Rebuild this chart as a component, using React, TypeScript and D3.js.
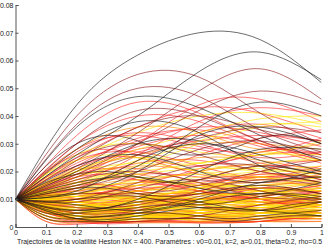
import React, { useEffect, useRef } from 'react';
import * as d3 from 'd3';

const times = [0, 0.2, 0.4, 0.6, 0.8, 1];
const fineTimes = [0, 0.1, 0.2, 0.3, 0.4, 0.5, 0.6, 0.7, 0.8, 0.9, 1];

const xTicks = [0, 0.1, 0.2, 0.3, 0.4, 0.5, 0.6, 0.7, 0.8, 0.9, 1];
const yTicks = [0, 0.01, 0.02, 0.03, 0.04, 0.05, 0.06, 0.07, 0.08];

const blackPaths = [
  [.01, .044, .062, .070, .0675, .052],
  [.01, .026, .040, .056, .063, .053],
  [.01, .036, .047, .043, .033, .024],
  [.01, .015, .022, .036, .045, .040],
  [.01, .028, .038, .034, .022, .016],
  [.01, .012, .020, .033, .036, .030],
  [.01, .020, .030, .031, .024, .019],
  [.01, .006, .010, .020, .028, .028],
  [.01, .016, .018, .014, .012, .016],
  [.01, .008, .006, .010, .016, .018],
  [.01, .004, .005, .009, .012, .010],
  [.01, .022, .026, .020, .016, .021],
  [.01, .013, .024, .030, .026, .020],
  [.01, .003, .004, .007, .006, .004],
];

const darkRedPaths = [
  [.01, .040, .055, .054, .041, .030],
  [.01, .037, .050, .047, .035, .027],
  [.01, .021, .034, .049, .057, .046],
  [.01, .019, .030, .042, .049, .044],
  [.01, .030, .042, .040, .031, .025],
  [.01, .024, .036, .040, .035, .031],
  [.01, .018, .026, .032, .036, .034],
  [.01, .014, .020, .028, .031, .026],
  [.01, .025, .030, .026, .020, .018],
  [.01, .010, .016, .022, .022, .017],
  [.01, .012, .012, .015, .020, .024],
  [.01, .007, .008, .013, .017, .015],
  [.01, .017, .020, .016, .011, .010],
  [.01, .005, .006, .011, .014, .012],
  [.01, .009, .014, .017, .013, .009],
  [.01, .003, .002, .004, .008, .011],
];

const redPaths = [
  [.01, .033, .045, .041, .031, .024],
  [.01, .018, .030, .044, .046, .038],
  [.01, .030, .040, .038, .030, .026],
  [.01, .025, .036, .043, .041, .034],
  [.01, .016, .026, .038, .043, .040],
  [.01, .027, .034, .030, .025, .027],
  [.01, .022, .032, .035, .030, .024],
  [.01, .014, .024, .034, .037, .032],
  [.01, .020, .028, .028, .023, .020],
  [.01, .012, .018, .026, .032, .035],
  [.01, .024, .027, .022, .018, .022],
  [.01, .017, .023, .024, .020, .016],
  [.01, .011, .015, .021, .026, .027],
  [.01, .015, .019, .018, .016, .019],
  [.01, .008, .011, .017, .022, .021],
  [.01, .019, .021, .016, .013, .015],
  [.01, .013, .016, .015, .012, .012],
  [.01, .009, .013, .016, .018, .016],
  [.01, .006, .008, .012, .015, .016],
  [.01, .012, .011, .009, .010, .013],
  [.01, .007, .006, .008, .011, .013],
  [.01, .005, .007, .010, .010, .008],
  [.01, .010, .009, .007, .008, .011],
  [.01, .004, .003, .005, .008, .009],
  [.01, .006, .005, .004, .006, .009],
  [.01, .003, .002, .003, .005, .006],
  [.01, .008, .010, .012, .011, .008],
  [.01, .004, .004, .006, .004, .003],
  [.01, .002, .0015, .002, .003, .004],
  [.01, .011, .014, .013, .010, .007],
  [.01, .005, .003, .002, .003, .005],
  [.01, .009, .007, .006, .007, .006],
  [.01, .0025, .002, .0015, .002, .002],
  [.01, .007, .009, .009, .007, .005],
  [.01, .016, .017, .013, .010, .013],
  [.01, .023, .031, .036, .034, .029],
  [.01, .019, .027, .031, .033, .031],
  [.01, .028, .033, .029, .027, .032],
  [.01, .021, .029, .033, .029, .023],
];

const orangePaths = [
  [.01, .028, .036, .034, .028, .030],
  [.01, .020, .026, .030, .030, .028],
  [.01, .015, .021, .025, .024, .020],
  [.01, .012, .016, .020, .023, .024],
  [.01, .018, .022, .020, .017, .018],
  [.01, .010, .013, .017, .019, .018],
  [.01, .013, .014, .012, .013, .016],
  [.01, .008, .009, .012, .014, .013],
  [.01, .006, .007, .009, .012, .014],
  [.01, .011, .010, .010, .012, .010],
  [.01, .007, .005, .006, .008, .010],
  [.01, .005, .004, .005, .007, .007],
  [.01, .009, .008, .009, .009, .007],
  [.01, .004, .003, .004, .005, .004],
  [.01, .003, .002, .002, .003, .003],
  [.01, .006, .006, .007, .006, .005],
  [.01, .0025, .002, .003, .002, .002],
  [.01, .008, .006, .004, .004, .006],
  [.01, .004, .005, .008, .009, .008],
  [.01, .014, .012, .010, .011, .014],
  [.01, .003, .0015, .0015, .002, .003],
  [.01, .007, .008, .010, .010, .009],
  [.01, .005, .005, .003, .003, .004],
  [.01, .010, .011, .011, .009, .010],
  [.01, .0025, .003, .005, .006, .005],
  [.01, .006, .004, .003, .004, .004],
  [.01, .012, .013, .015, .017, .020],
  [.01, .009, .010, .014, .016, .015],
];

const yellowPaths = [
  [.01, .024, .034, .040, .041, .037],
  [.01, .026, .030, .027, .026, .031],
  [.01, .016, .022, .030, .036, .038],
  [.01, .021, .025, .023, .020, .021],
  [.01, .017, .020, .023, .026, .026],
  [.01, .013, .017, .019, .018, .016],
  [.01, .019, .018, .015, .015, .018],
  [.01, .011, .013, .014, .015, .015],
  [.01, .009, .011, .013, .013, .011],
  [.01, .012, .010, .008, .009, .012],
  [.01, .007, .007, .008, .010, .012],
  [.01, .008, .007, .007, .008, .007],
  [.01, .010, .012, .012, .011, .009],
  [.01, .005, .006, .006, .007, .007],
  [.01, .006, .004, .004, .005, .006],
  [.01, .004, .004, .005, .006, .006],
  [.01, .003, .003, .004, .004, .003],
  [.01, .007, .009, .011, .012, .011],
  [.01, .005, .004, .0025, .003, .004],
  [.01, .008, .009, .008, .006, .005],
  [.01, .009, .008, .010, .013, .014],
  [.01, .004, .0025, .003, .004, .005],
  [.01, .011, .011, .010, .008, .008],
  [.01, .006, .007, .006, .005, .004],
  [.01, .014, .016, .016, .014, .013],
  [.01, .003, .004, .006, .007, .006],
  [.01, .015, .019, .021, .021, .019],
  [.01, .008, .005, .005, .006, .008],
  [.01, .010, .008, .006, .007, .009],
  [.01, .012, .015, .018, .020, .022],
  [.01, .020, .028, .034, .039, .040],
  [.01, .018, .024, .031, .037, .036],
];

// wavier trajectories of the dense lower band, read on the 0.1 grid
const wavyRed = [
  [.01, .006, .004, .004, .006, .008, .008, .006, .005, .006, .008],
  [.01, .012, .013, .012, .010, .009, .010, .012, .014, .014, .012],
  [.01, .007, .005, .005, .007, .010, .012, .012, .010, .008, .008],
  [.01, .004, .002, .002, .003, .004, .004, .003, .003, .004, .005],
  [.01, .009, .010, .013, .015, .015, .013, .011, .011, .013, .015],
  [.01, .015, .018, .019, .017, .015, .015, .017, .019, .019, .017],
  [.01, .005, .003, .003, .005, .006, .005, .003, .003, .004, .006],
  [.01, .011, .010, .008, .007, .008, .010, .011, .010, .008, .007],
  [.01, .003, .0015, .0015, .002, .003, .003, .002, .002, .003, .003],
  [.01, .020, .026, .028, .026, .023, .022, .024, .027, .028, .026],
  [.01, .008, .008, .009, .011, .011, .009, .008, .008, .010, .012],
  [.01, .017, .022, .025, .025, .022, .019, .018, .020, .023, .024],
  [.01, .006, .006, .008, .010, .010, .008, .006, .006, .007, .009],
  [.01, .013, .015, .015, .013, .012, .013, .016, .018, .018, .016],
  [.01, .002, .001, .0015, .002, .002, .0015, .0015, .002, .003, .003],
];

const wavyOrange = [
  [.01, .007, .006, .007, .009, .009, .007, .005, .005, .007, .009],
  [.01, .005, .004, .005, .006, .006, .005, .004, .005, .007, .008],
  [.01, .010, .011, .012, .012, .010, .009, .010, .012, .013, .012],
  [.01, .004, .003, .003, .004, .005, .005, .004, .003, .003, .004],
  [.01, .012, .014, .016, .017, .016, .014, .013, .014, .016, .017],
  [.01, .003, .002, .003, .004, .004, .003, .002, .002, .003, .004],
  [.01, .008, .007, .006, .006, .008, .010, .010, .009, .008, .009],
  [.01, .014, .016, .015, .013, .012, .014, .017, .018, .016, .014],
  [.01, .006, .005, .006, .008, .010, .010, .009, .008, .009, .011],
  [.01, .002, .0015, .002, .003, .003, .002, .0015, .002, .003, .003],
  [.01, .009, .008, .008, .010, .012, .012, .010, .008, .008, .010],
  [.01, .018, .021, .021, .019, .018, .020, .022, .022, .020, .019],
  [.01, .005, .004, .003, .003, .004, .006, .007, .006, .005, .005],
  [.01, .011, .012, .011, .010, .011, .013, .014, .013, .011, .010],
  [.01, .003, .003, .004, .005, .005, .004, .004, .005, .006, .006],
];

const wavyYellow = [
  [.01, .008, .007, .008, .010, .011, .010, .008, .008, .010, .011],
  [.01, .005, .005, .006, .007, .006, .005, .005, .006, .008, .008],
  [.01, .011, .012, .014, .015, .014, .012, .012, .013, .015, .016],
  [.01, .006, .004, .004, .005, .007, .008, .007, .006, .006, .007],
  [.01, .013, .016, .018, .018, .016, .015, .016, .018, .019, .018],
  [.01, .004, .003, .003, .003, .004, .004, .004, .005, .005, .004],
  [.01, .009, .009, .010, .011, .010, .009, .009, .011, .013, .013],
  [.01, .016, .020, .022, .023, .022, .020, .020, .022, .024, .024],
  [.01, .007, .006, .006, .008, .009, .009, .007, .006, .007, .009],
  [.01, .003, .002, .002, .003, .004, .004, .003, .003, .004, .005],
  [.01, .012, .011, .010, .010, .012, .014, .015, .014, .012, .011],
  [.01, .006, .007, .009, .010, .010, .009, .009, .010, .011, .010],
  [.01, .010, .009, .007, .007, .008, .009, .009, .008, .007, .008],
  [.01, .004, .004, .005, .006, .007, .007, .006, .005, .005, .006],
  [.01, .019, .024, .026, .025, .023, .023, .025, .027, .026, .024],
];

const wavyDark = [
  [.01, .007, .006, .007, .009, .010, .009, .007, .006, .007, .009],
  [.01, .012, .014, .014, .012, .011, .012, .014, .015, .014, .012],
  [.01, .004, .003, .004, .005, .005, .004, .003, .004, .005, .006],
  [.01, .009, .010, .011, .011, .009, .008, .009, .011, .012, .011],
  [.01, .016, .019, .020, .018, .016, .017, .020, .022, .021, .019],
  [.01, .005, .005, .006, .007, .008, .007, .006, .006, .008, .009],
  [.01, .022, .030, .033, .031, .027, .026, .028, .032, .033, .030],
  [.01, .003, .002, .002, .003, .003, .003, .002, .003, .004, .004],
];

const groups = [
  { paths: redPaths, grid: times, color: '#ff2a2a' },
  { paths: wavyOrange, grid: fineTimes, color: '#ff8a00' },
  { paths: orangePaths, grid: times, color: '#ff8a00' },
  { paths: wavyRed, grid: fineTimes, color: '#ff2a2a' },
  { paths: yellowPaths, grid: times, color: '#ffe600' },
  { paths: wavyYellow, grid: fineTimes, color: '#ffe600' },
  { paths: darkRedPaths, grid: times, color: '#8a1a1a' },
  { paths: wavyDark, grid: fineTimes, color: '#3a1010' },
  { paths: blackPaths, grid: times, color: '#1a1a1a' },
];

const title = 'Trajectoires de la volatilité Heston NX = 400. Paramètres : v0=0.01, k=2, a=0.01, theta=0.2, rho=0.5';

export default function App() {
  const ref = useRef<SVGSVGElement>(null);

  useEffect(() => {
    document.body.style.margin = '0';
    const left = 15.5, right = 321.5, top = 5, bottom = 227;

    const svg = d3.select(ref.current);
    svg.selectAll('*').remove();

    const x = d3.scaleLinear().domain([0, 1]).range([left, right]);
    const y = d3.scaleLinear().domain([0, 0.08]).range([bottom, top]);

    svg.append('defs').append('clipPath').attr('id', 'plot')
      .append('rect')
        .attr('x', left).attr('y', top)
        .attr('width', right - left).attr('height', bottom - top);

    const plot = svg.append('g').attr('clip-path', 'url(#plot)');
    groups.forEach(g => {
      const line = d3.line<number>()
        .x((d, i) => x(g.grid[i]))
        .y(d => y(d))
        .curve(d3.curveNatural);
      plot.append('g')
        .selectAll('path')
        .data(g.paths)
        .enter()
        .append('path')
          .attr('d', d => line(d))
          .attr('fill', 'none')
          .attr('stroke', g.color)
          .attr('stroke-width', 0.75)
          .attr('stroke-opacity', 0.85);
    });

    // axes, ticks pointing inward
    const yAxis = svg.append('g')
      .attr('transform', `translate(${left},0)`)
      .call(d3.axisLeft(y).tickValues(yTicks).tickSize(-3).tickPadding(2)
        .tickFormat(d => (d === 0 ? '0' : d3.format('.2f')(d as number))));
    yAxis.select('.domain').attr('stroke', '#555');
    yAxis.selectAll('.tick line').attr('stroke', '#555');
    yAxis.selectAll('text').attr('font-size', 7).attr('fill', '#222')
      .attr('font-family', 'Liberation Sans, Arial, sans-serif');

    const xAxis = svg.append('g')
      .attr('transform', `translate(0,${bottom})`)
      .call(d3.axisBottom(x).tickValues(xTicks).tickSize(-3).tickPadding(3)
        .tickFormat(d => d3.format('')(d as number)));
    xAxis.select('.domain').attr('stroke', '#555');
    xAxis.selectAll('.tick line').attr('stroke', '#555');
    xAxis.selectAll('text').attr('font-size', 7).attr('fill', '#222')
      .attr('font-family', 'Liberation Sans, Arial, sans-serif');

    svg.append('text')
      .attr('x', 17)
      .attr('y', 243.5)
      .attr('font-size', 6.4)
      .attr('fill', '#222')
      .attr('font-family', 'Liberation Sans, Arial, sans-serif')
      .attr('textLength', 305)
      .attr('lengthAdjust', 'spacingAndGlyphs')
      .text(title);
  }, []);

  return (
    <div style={{ position: 'absolute', left: 0, top: 0 }}>
      <svg ref={ref} width={327} height={245} style={{ display: 'block', background: '#fff' }} />
    </div>
  );
}
